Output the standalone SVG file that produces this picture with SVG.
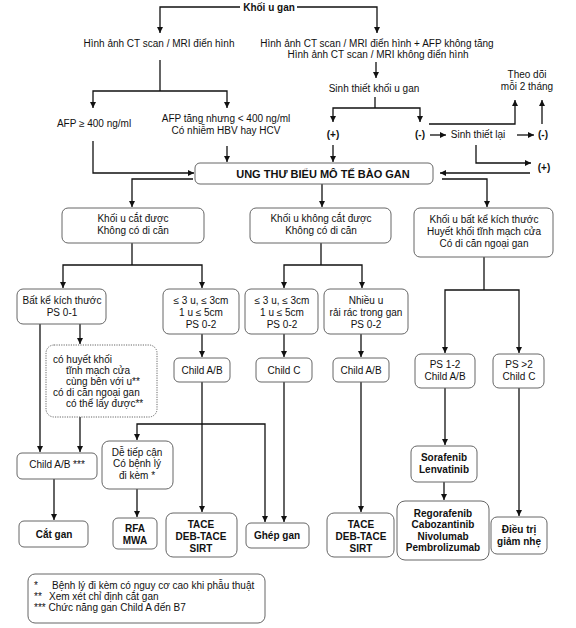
<svg xmlns="http://www.w3.org/2000/svg" width="576" height="628" viewBox="0 0 576 628">
<defs>
<marker id="ah" viewBox="0 0 10 10" refX="10" refY="5" markerWidth="6" markerHeight="6" markerUnits="userSpaceOnUse" orient="auto"><path d="M0,0 L10,5 L0,10 z" fill="#111"/></marker>
<style>
text{font-family:"Liberation Sans",Arial,sans-serif;font-size:10px;fill:#111;text-anchor:middle}
.b{font-weight:bold}
.l{text-anchor:start}
.box{fill:#fff;stroke:#666;stroke-width:1}
.dot{fill:#fff;stroke:#666;stroke-width:1;stroke-dasharray:1.2 1.2}
.c{fill:none;stroke:#111;stroke-width:1.3}
.a{marker-end:url(#ah)}
</style>
</defs>
<rect width="576" height="628" fill="#fff"/>
<g id="connectors">
<path class="c a" d="M240,7 H160 V33"/>
<path class="c a" d="M297,7 H377 V33"/>
<path class="c" d="M160,60 V91"/>
<path class="c a" d="M160,91 H93 V108"/>
<path class="c a" d="M160,91 H227 V108"/>
<path class="c a" d="M93,141 V173 H194"/>
<path class="c a" d="M227,146 V162"/>
<path class="c a" d="M376,62 V78"/>
<path class="c" d="M375,97 V108"/>
<path class="c a" d="M375,108 H333 V122"/>
<path class="c a" d="M375,108 H420 V122"/>
<path class="c a" d="M333,145 V162"/>
<path class="c a" d="M430,135 H446"/>
<path class="c a" d="M517,135 H534"/>
<path class="c a" d="M429,124 H515 V100"/>
<path class="c a" d="M542,124 V100"/>
<path class="c a" d="M476,145 V163 H531"/>
<path class="c a" d="M530,173 H440"/>
<path class="c a" d="M442,179 H487 V207"/>
<path class="c a" d="M193,179 H132 V207"/>
<path class="c a" d="M322,184 V207"/>
<path class="c" d="M132,243 V265"/>
<path class="c a" d="M132,265 H63 V288"/>
<path class="c a" d="M132,265 H202 V288"/>
<path class="c" d="M321,243 V265"/>
<path class="c a" d="M321,265 H284 V288"/>
<path class="c a" d="M321,265 H362 V288"/>
<path class="c" d="M484,257 V290"/>
<path class="c a" d="M484,290 H445 V353"/>
<path class="c a" d="M484,290 H519 V353"/>
<path class="c a" d="M40,324 V452"/>
<path class="c a" d="M80,324 V344"/>
<path class="c a" d="M80,417 V452"/>
<path class="c a" d="M202,334 V357"/>
<path class="c a" d="M284,334 V357"/>
<path class="c a" d="M361,334 V357"/>
<path class="c a" d="M202,382 V512"/>
<path class="c a" d="M202,424 H137 V440"/>
<path class="c a" d="M202,424 H265 V522"/>
<path class="c a" d="M284,382 V522"/>
<path class="c a" d="M361,382 V512"/>
<path class="c a" d="M54,479 V520"/>
<path class="c a" d="M137,489 V517"/>
<path class="c a" d="M445,388 V445"/>
<path class="c a" d="M444,482 V500"/>
<path class="c a" d="M519,388 V516"/>
</g>
<g id="n-khoi-u-gan"><text class="b" x="269" y="11">Khối u gan</text></g>
<g id="n-ct-dien-hinh"><text x="159" y="47">Hình ảnh CT scan / MRI điển hình</text></g>
<g id="n-ct-khong"><text x="377" y="47">Hình ảnh CT scan / MRI điển hình + AFP không tăng</text><text x="378" y="58">Hình ảnh CT scan / MRI không điển hình</text></g>
<g id="n-sinh-thiet"><text x="374" y="92">Sinh thiết khối u gan</text></g>
<g id="n-afp400"><text x="94" y="127">AFP ≥ 400 ng/ml</text></g>
<g id="n-afp-tang"><text x="226" y="122">AFP tăng nhưng &lt; 400 ng/ml</text><text x="226" y="134">Có nhiễm HBV hay HCV</text></g>
<g id="n-pos"><text class="b" x="333" y="138">(+)</text></g>
<g id="n-neg"><text class="b" x="420" y="138">(-)</text></g>
<g id="n-sinh-thiet-lai"><text x="478" y="138">Sinh thiết lại</text></g>
<g id="n-neg2"><text class="b" x="543" y="138">(-)</text></g>
<g id="n-theo-doi"><text x="527" y="78">Theo dõi</text><text x="527" y="90">mỗi 2 tháng</text></g>
<g id="n-pos2"><text class="b" x="544" y="171">(+)</text></g>
<g id="n-ung-thu"><rect class="box" x="195" y="163" width="238" height="21" rx="5"/><text class="b" x="323" y="177.5" style="font-size:11px">UNG THƯ BIỂU MÔ TẾ BÀO GAN</text></g>
<g id="n-cat-duoc"><rect class="box" x="62" y="208" width="142" height="35" rx="6"/><text x="133" y="222">Khối u cắt được</text><text x="133" y="234">Không có di căn</text></g>
<g id="n-khong-cat"><rect class="box" x="250" y="208" width="141" height="35" rx="6"/><text x="321" y="222">Khối u không cắt được</text><text x="321" y="234">Không có di căn</text></g>
<g id="n-bat-ke"><rect class="box" x="414" y="208" width="139" height="49" rx="6"/><text x="484" y="223">Khối u bất kể kích thước</text><text x="484" y="235">Huyết khối tĩnh mạch cửa</text><text x="484" y="247">Có di căn ngoại gan</text></g>
<g id="n-ps01"><rect class="box" x="17" y="289" width="89" height="35" rx="6"/><text x="62" y="304">Bất kể kích thước</text><text x="62" y="316">PS 0-1</text></g>
<g id="n-3u-a"><rect class="box" x="163" y="289" width="76" height="45" rx="6"/><text x="201" y="304">≤ 3 u, ≤ 3cm</text><text x="201" y="316">1 u ≤ 5cm</text><text x="201" y="328">PS 0-2</text></g>
<g id="n-3u-b"><rect class="box" x="245" y="289" width="73" height="45" rx="6"/><text x="282" y="304">≤ 3 u, ≤ 3cm</text><text x="282" y="316">1 u ≤ 5cm</text><text x="282" y="328">PS 0-2</text></g>
<g id="n-nhieu-u"><rect class="box" x="324" y="289" width="84" height="45" rx="6"/><text x="366" y="304">Nhiều u</text><text x="366" y="316">rải rác trong gan</text><text x="366" y="328">PS 0-2</text></g>
<g id="n-huyet-khoi"><rect class="dot" x="46" y="345" width="111" height="72" rx="8"/><text class="l" x="53" y="363">có huyết khối</text><text class="l" x="66" y="374">tĩnh mạch cửa</text><text class="l" x="66" y="385">cùng bên với u**</text><text class="l" x="53" y="396">có di căn ngoại gan</text><text class="l" x="66" y="407">có thể lấy được**</text></g>
<g id="n-child-ab-1"><rect class="box" x="174" y="358" width="56" height="24" rx="5"/><text x="202" y="374">Child A/B</text></g>
<g id="n-child-c-1"><rect class="box" x="256" y="358" width="56" height="24" rx="5"/><text x="284" y="374">Child C</text></g>
<g id="n-child-ab-2"><rect class="box" x="333" y="358" width="56" height="24" rx="5"/><text x="361" y="374">Child A/B</text></g>
<g id="n-ps12"><rect class="box" x="415" y="354" width="60" height="34" rx="6"/><text x="445" y="368">PS 1-2</text><text x="445" y="380">Child A/B</text></g>
<g id="n-ps2"><rect class="box" x="493" y="354" width="51" height="34" rx="6"/><text x="519" y="368">PS &gt;2</text><text x="519" y="380">Child C</text></g>
<g id="n-child-ab-3"><rect class="box" x="17" y="453" width="80" height="26" rx="5"/><text x="57" y="468">Child A/B ***</text></g>
<g id="n-de-tiep-can"><rect class="box" x="102" y="441" width="71" height="48" rx="7"/><text x="137" y="456">Dễ tiếp cận</text><text x="137" y="467">Có bệnh lý</text><text x="137" y="479">đi kèm *</text></g>
<g id="n-sorafenib"><rect class="box" x="411" y="446" width="66" height="36" rx="6"/><text class="b" x="444" y="461">Sorafenib</text><text class="b" x="444" y="473">Lenvatinib</text></g>
<g id="n-cat-gan"><rect class="box" x="19" y="521" width="69" height="26" rx="5"/><text class="b" x="54" y="538">Cắt gan</text></g>
<g id="n-rfa"><rect class="box" x="113" y="518" width="44" height="31" rx="5"/><text class="b" x="135" y="532">RFA</text><text class="b" x="135" y="544">MWA</text></g>
<g id="n-tace-1"><rect class="box" x="166" y="513" width="71" height="44" rx="7"/><text class="b" x="201" y="528">TACE</text><text class="b" x="201" y="540">DEB-TACE</text><text class="b" x="201" y="552">SIRT</text></g>
<g id="n-ghep-gan"><rect class="box" x="246" y="523" width="63" height="25" rx="5"/><text class="b" x="277" y="539">Ghép gan</text></g>
<g id="n-tace-2"><rect class="box" x="327" y="513" width="67" height="44" rx="7"/><text class="b" x="361" y="528">TACE</text><text class="b" x="361" y="540">DEB-TACE</text><text class="b" x="361" y="552">SIRT</text></g>
<g id="n-regorafenib"><rect class="box" x="397" y="501" width="92" height="59" rx="8"/><text class="b" x="443" y="516.5">Regorafenib</text><text class="b" x="443" y="527.5">Cabozantinib</text><text class="b" x="443" y="539.5">Nivolumab</text><text class="b" x="443" y="550.5">Pembrolizumab</text></g>
<g id="n-giam-nhe"><rect class="box" x="491" y="517" width="56" height="37" rx="6"/><text class="b" x="519" y="533">Điều trị</text><text class="b" x="519" y="545">giảm nhẹ</text></g>
<g id="legend"><rect class="box" x="28" y="574" width="237" height="49" rx="7"/><text class="l" x="34" y="589">*</text><text class="l" x="52" y="589">Bệnh lý đi kèm có nguy cơ cao khi phẫu thuật</text><text class="l" x="34" y="600">**</text><text class="l" x="49" y="600">Xem xét chỉ định cắt gan</text><text class="l" x="34" y="611">*** Chức năng gan Child A đến B7</text></g>
</svg>
